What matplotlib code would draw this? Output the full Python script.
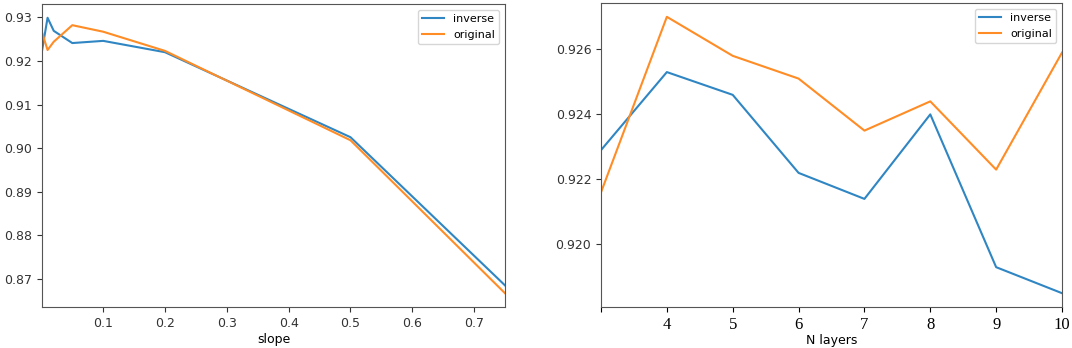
import matplotlib
matplotlib.use("Agg")
import matplotlib.pyplot as plt

# left panel: accuracy vs slope
slope = [0.001, 0.01, 0.02, 0.05, 0.1, 0.2, 0.5, 0.75]
slope_inverse = [0.9223, 0.9299, 0.9269, 0.9241, 0.9246, 0.9220, 0.9025, 0.8685]
slope_original = [0.9266, 0.9225, 0.9244, 0.9282, 0.9267, 0.9223, 0.9018, 0.8667]

# right panel: accuracy vs number of layers
layers = [3, 4, 5, 6, 7, 8, 9, 10]
layers_inverse = [0.9229, 0.9253, 0.9246, 0.9222, 0.9214, 0.9240, 0.9193, 0.9185]
layers_original = [0.9216, 0.9270, 0.9258, 0.9251, 0.9235, 0.9244, 0.9223, 0.9259]
layer_ticks = [3, 4, 5, 6, 7, 8, 9, 10]
layer_labels = ["", "4", "5", "6", "7", "8", "9", "10"]

fig = plt.figure(figsize=(10.72, 3.48), dpi=100)
ax1 = fig.add_axes([42 / 1072, 1 - 307 / 348, 463 / 1072, 303 / 348])
ax2 = fig.add_axes([601 / 1072, 1 - 307 / 348, 461 / 1072, 304 / 348])

blue = "#2f86c3"
orange = "#ff8c25"

ax1.plot(slope, slope_inverse, label="inverse", color=blue)
ax1.plot(slope, slope_original, label="original", color=orange)
ax1.set_xlim(slope[0], slope[-1])
ax1.set_xticks([0.1, 0.2, 0.3, 0.4, 0.5, 0.6, 0.7])
ax1.set_xlabel("slope", fontsize=9, labelpad=2)
ax1.tick_params(labelsize=9, colors="#333333")
ax1.legend(loc="upper right", fontsize=8)

ax2.plot(layers, layers_inverse, label="inverse", color=blue)
ax2.plot(layers, layers_original, label="original", color=orange)
ax2.set_xlim(layers[0], layers[-1])
ax2.set_xticks(layer_ticks)
ax2.set_xticklabels(layer_labels, fontfamily="Liberation Serif", fontsize=12, color="black")
ax2.set_yticks([0.920, 0.922, 0.924, 0.926])
ax2.set_xlabel("N layers", fontsize=9, labelpad=1)
ax2.tick_params(axis="y", labelsize=9, colors="#333333")
ax2.legend(loc="upper right", fontsize=8)

for ax in (ax1, ax2):
    for sp in ax.spines.values():
        sp.set_color("#555555")

fig.savefig("out.png", dpi=100)
